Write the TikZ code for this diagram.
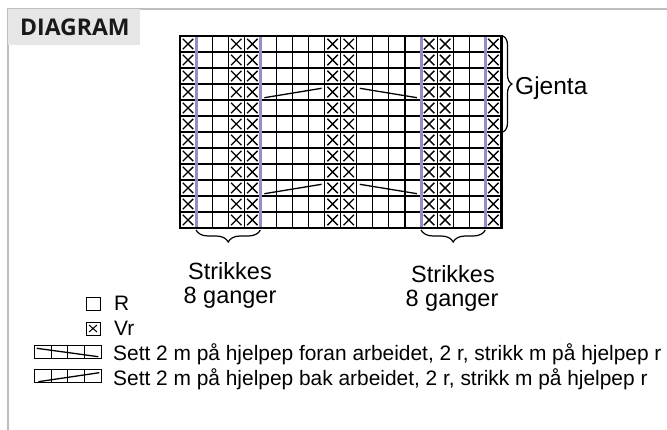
\documentclass[tikz,border=0pt]{standalone}
\usepackage{fontspec}
\setmainfont{Liberation Sans}
\newfontfamily\headfont{Open Sans}
\usetikzlibrary{decorations.pathreplacing}

\definecolor{framegray}{RGB}{190,190,190}
\definecolor{headbg}{RGB}{230,230,230}
\definecolor{lilac}{RGB}{152,140,200}
\definecolor{ink}{RGB}{25,25,25}

\tikzset{
  gridline/.style={line width=1.1pt, black},
  border/.style={line width=2.6pt, black},
  markx/.style={line width=1.35pt, black},
  repline/.style={line width=3pt, lilac},
  cable/.style={line width=1.3pt, black},
  bracepath/.style={decorate, line width=1.2pt, decoration={brace, amplitude=#1}},
  label/.style={inner sep=0pt, font=\fontsize{23.5}{23.5}\selectfont},
  legtext/.style={inner sep=0pt, anchor=base west, font=\fontsize{20.9}{20.9}\selectfont},
  legbox/.style={line width=0.9pt, black},
}

\begin{document}
\begin{tikzpicture}[x=1pt, y=-1pt]
\useasboundingbox (0,0) rectangle (667,430);
\fill[white] (0,0) rectangle (667,430);

% outer frame and heading
\draw[framegray, line width=1.5pt] (8,430) -- (8,9) -- (667,9);
\fill[headbg] (8,9) rectangle (140,45);
\node[inner sep=0pt, anchor=base west, text=ink, font=\headfont\bfseries\fontsize{23}{23}\selectfont] (title) at (20,35.5) {DIAGRAM};

% chart: 20 columns x 12 rows
\def\cw{16.07}
\def\ch{16}
\def\xo{180}
\def\yo{36}

\foreach \c in {0,...,20}
  \draw[gridline] ({\xo+\c*\cw},\yo) -- ({\xo+\c*\cw},{\yo+12*\ch});
\foreach \r in {0,...,12}
  \draw[gridline] (\xo,{\yo+\r*\ch}) -- ({\xo+20*\cw},{\yo+\r*\ch});

% purl stitches
\foreach \c in {1,4,5,10,11,16,17,20}
  \foreach \r in {1,...,12} {
    \pgfmathsetmacro{\xl}{\xo+(\c-1)*\cw+2.8}
    \pgfmathsetmacro{\xr}{\xo+\c*\cw-2.8}
    \pgfmathsetmacro{\yt}{\yo+(\r-1)*\ch+2.8}
    \pgfmathsetmacro{\yb}{\yo+\r*\ch-2.8}
    \draw[markx] (\xl,\yt) -- (\xr,\yb) (\xl,\yb) -- (\xr,\yt);
  }

% cables in rows 4 and 10
\foreach \r in {4,10} {
  \pgfmathsetmacro{\yt}{\yo+(\r-1)*\ch+4.3}
  \pgfmathsetmacro{\yb}{\yo+\r*\ch-2.3}
  \draw[cable] ({\xo+5*\cw+4},\yb) -- ({\xo+9*\cw-3},\yt);
  \draw[cable] ({\xo+11*\cw+3},\yt) -- ({\xo+15*\cw-4},\yb);
}

% repeat lines
\foreach \c in {1,5,15,19}
  \draw[repline] ({\xo+\c*\cw},\yo) -- ({\xo+\c*\cw},{\yo+12*\ch});

\draw[border] (\xo,\yo) rectangle ({\xo+20*\cw},{\yo+12*\ch});

% braces
\coordinate (gtop) at (503,36);
\coordinate (gbot) at (503,132);
\draw[bracepath=9] (gtop) -- (gbot);
\node[label, anchor=west, font=\fontsize{24.5}{24.5}\selectfont] (gjenta) at (515,88) {Gjenta};

\coordinate (la) at ({\xo+5*\cw},230);
\coordinate (lb) at ({\xo+1*\cw},230);
\draw[bracepath=12] (la) -- (lb);
\coordinate (ra) at ({\xo+19*\cw},230);
\coordinate (rb) at ({\xo+15*\cw},230);
\draw[bracepath=12] (ra) -- (rb);

\node[label, anchor=base] (strikL) at (230,280) {Strikkes};
\node[label, anchor=base] (gangL) at (230,303.5) {8 ganger};
\node[label, anchor=base] (strikR) at (453,282.7) {Strikkes};
\node[label, anchor=base] (gangR) at (452,306.5) {8 ganger};

% legend
\draw[legbox] (86,297) rectangle (100,310);
\node[legtext] (legR) at (114,310.5) {R};

\draw[legbox] (86,322) rectangle (100,335);
\draw[line width=1pt] (89,325) -- (97,332) (89,332) -- (97,325);
\node[legtext] (legVr) at (114,335.5) {Vr};

\draw[legbox] (34.5,345) rectangle (101,358.3);
\foreach \x in {51.1,67.8,84.4} \draw[legbox] (\x,345) -- (\x,358.3);
\draw[cable] (36.7,348.3) -- (98.3,356.7);
\node[legtext] (legF) at (113,360.5) {Sett 2 m på hjelpep foran arbeidet, 2 r, strikk m på hjelpep r};

\draw[legbox] (34.5,369.3) rectangle (101,382.7);
\foreach \x in {51.1,67.8,84.4} \draw[legbox] (\x,369.3) -- (\x,382.7);
\draw[cable] (38.3,381.7) -- (99.3,372.7);
\node[legtext] (legB) at (113,386) {Sett 2 m på hjelpep bak arbeidet, 2 r, strikk m på hjelpep r};
\end{tikzpicture}
\end{document}
